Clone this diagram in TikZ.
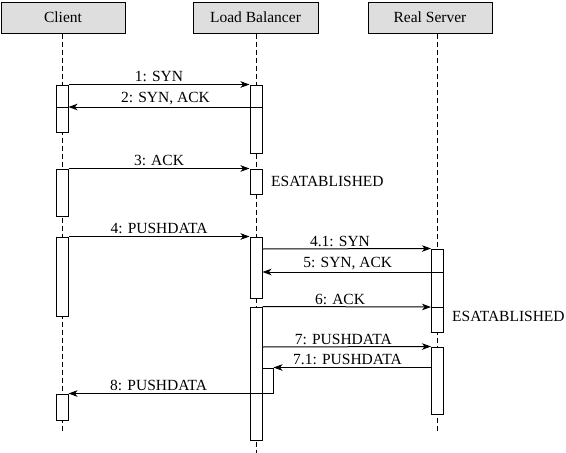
\documentclass[tikz,border=0pt]{standalone}
\usepackage{fontspec}
\setmainfont{Liberation Serif}
\usetikzlibrary{arrows.meta,positioning}

\tikzset{
  head/.style={draw=black,fill=headgray,line width=1pt,minimum width=124pt,minimum height=31pt,inner sep=0pt},
  life/.style={dashed,dash pattern=on 5pt off 3pt,line width=0.9pt},
  bar/.style={draw=black,fill=white,line width=1pt,minimum width=12pt,inner sep=0pt},
  msg/.style={line width=1pt,-{Stealth[length=9pt,width=6.5pt,inset=2.5pt]}},
  lbl/.style={above,inner sep=2pt}
}

\begin{document}
\begin{tikzpicture}[x=1pt,y=-1pt,font=\fontsize{15.5}{18}\selectfont]
\definecolor{headgray}{HTML}{DEDEDE}
\useasboundingbox (0,0) rectangle (566,453);

% participants
\node[head] (client) at (63,17.5) {Client};
\node[head,minimum width=125pt] (lb) at (255.5,17.5) {Load Balancer};
\node[head] (rs) at (430,17.5) {Real Server};

% lifelines
\coordinate (cend) at (62,432);
\coordinate (lend) at (256,453);
\coordinate (rend) at (437.5,432);
\draw[life] (client.south -| cend) -- (cend);
\draw[life] (lb.south -| lend) -- (lend);
\draw[life] (rs.south -| rend) -- (rend);

% activation bars
\foreach \n/\x/\ya/\yb in {c1/62/85/132,c2/62/169/216,c3/62/237/316,c4/62/394/420,
  l1/256/85/153,l2/256/169/194,l3/256/237/298,l4/256/307/440,
  r1/437.5/249/332,r2/437.5/347/414} {
  \node[bar,minimum height={(\yb-\ya)*1pt}] (\n) at (\x,{(\ya+\yb)/2}) {};
}
\node[bar,minimum width=11pt,minimum height=25pt] (l5) at (267.5,380.5) {};

% message levels
\coordinate (m2) at (0,107);
\coordinate (m41) at (0,249);
\coordinate (m5) at (0,272);
\coordinate (m6) at (0,307);
\coordinate (m7) at (0,347);

% messages
\draw[msg] (c1.north east) -- node[lbl] {1: SYN} (l1.north west);
\draw[msg] (l1.east |- m2) -- node[lbl] {2: SYN, ACK} (c1.east |- m2);
\draw[line width=1pt] (c1.west |- m2) -- (c1.east |- m2);
\draw[msg] (c2.north east) -- node[lbl] {3: ACK} (l2.north west);
\draw[msg] (c3.north east) -- node[lbl] {4: PUSHDATA} (l3.north west);
\draw[msg] (l3.east |- m41) -- node[lbl,pos=0.46] {4.1: SYN} (r1.north west);
\draw[msg] (r1.east |- m5) -- node[lbl,pos=0.53] {5: SYN, ACK} (l3.east |- m5);
\draw[msg] (l4.north east) -- node[lbl,pos=0.46] {6: ACK} (r1.west |- m6);
\draw[line width=1pt] (r1.west |- m6) -- (r1.east |- m6);
\draw[msg] (l4.east |- m7) -- node[lbl,pos=0.48] {7: PUSHDATA} (r2.north west);
\draw[msg] (r2.west |- l5.north) -- node[lbl,pos=0.53] {7.1: PUSHDATA} (l5.north east);
\draw[msg] (l5.south east) -- node[lbl,pos=0.56] {8: PUSHDATA} (c4.north east);

% states
\node[right,inner sep=0pt] (est1) at (271,181) {ESATABLISHED};
\node[right,inner sep=0pt] (est2) at (452,316) {ESATABLISHED};
\end{tikzpicture}
\end{document}
